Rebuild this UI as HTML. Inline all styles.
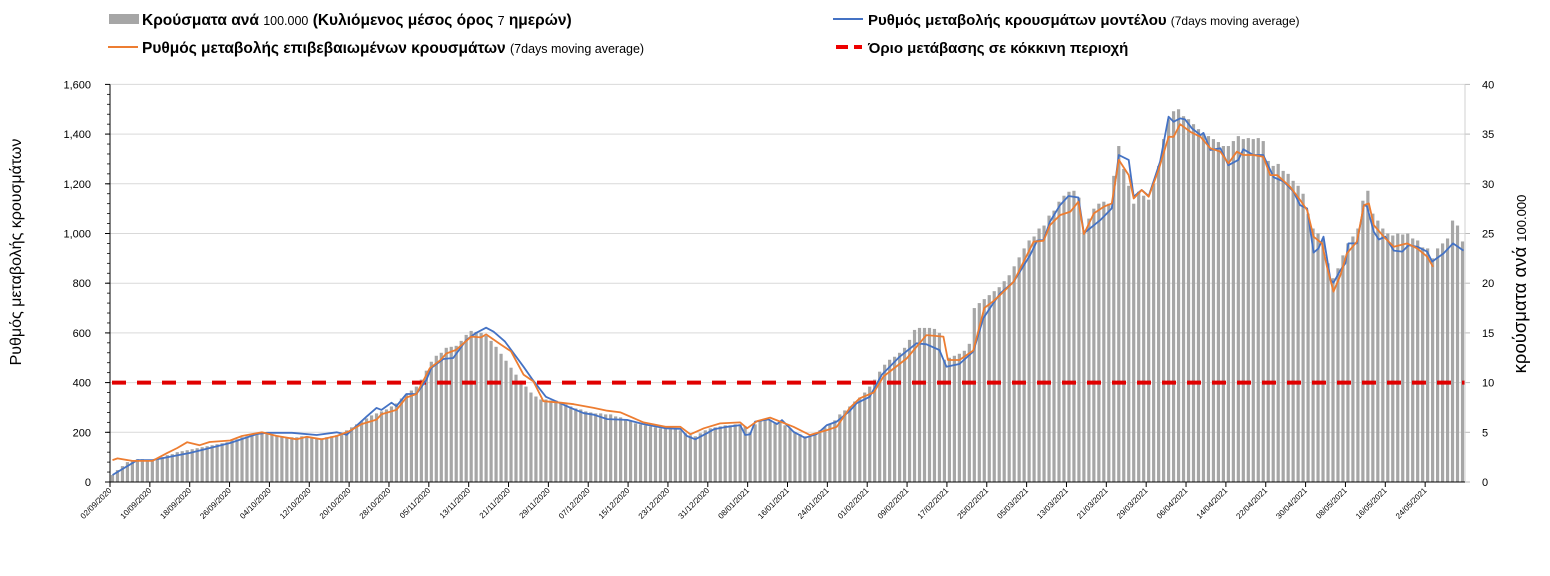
<!DOCTYPE html>
<html><head><meta charset="utf-8">
<style>
html,body{margin:0;padding:0;background:#fff;}
svg{display:block;font-family:"Liberation Sans",sans-serif;}
</style></head>
<body>
<svg id="chart" width="1550" height="576" viewBox="0 0 1550 576" xmlns="http://www.w3.org/2000/svg">
  <g>
    <rect x="109" y="14" width="30" height="10" fill="#a6a6a6"/>
    <text x="142" y="25" font-size="15.5" font-weight="bold" fill="#000">Κρούσματα ανά <tspan font-size="12.5" font-weight="normal">100.000</tspan> (Κυλιόμενος μέσος όρος <tspan font-size="12.5" font-weight="normal">7</tspan> ημερών)</text>
    <line x1="833" y1="19" x2="863" y2="19" stroke="#4472c4" stroke-width="2"/>
    <text x="868" y="25" font-size="15" font-weight="bold" fill="#000">Ρυθμός μεταβολής κρουσμάτων μοντέλου <tspan font-size="12" font-weight="normal">(7days moving average)</tspan></text>
    <line x1="108" y1="47" x2="138" y2="47" stroke="#ed7d31" stroke-width="2"/>
    <text x="142" y="53" font-size="15.5" font-weight="bold" fill="#000">Ρυθμός μεταβολής επιβεβαιωμένων κρουσμάτων <tspan font-size="12.5" font-weight="normal">(7days moving average)</tspan></text>
    <line x1="836" y1="47" x2="862" y2="47" stroke="#e00" stroke-width="4" stroke-dasharray="12,6"/>
    <text x="868" y="53" font-size="15" font-weight="bold" fill="#000">Όριο μετάβασης σε κόκκινη περιοχή</text>
  </g>
  <text transform="translate(21,252) rotate(-90)" text-anchor="middle" font-size="16" fill="#000">Ρυθμός μεταβολής κρουσμάτων</text>
  <text transform="translate(1526,284) rotate(-90)" text-anchor="middle" font-size="18.5" fill="#000">κρούσματα ανά <tspan font-size="13">100.000</tspan></text>
  <g id="grid"></g>
  <g id="bars"></g>
  <g id="lines"></g>
  <g id="axes"></g>
</svg>
<script>
const startDate = [2020, 8, 2];
const barValues = [
0.7,1.2,1.6,2.0,2.2,2.3,2.3,2.2,2.2,2.3,
2.5,2.7,2.8,3.0,3.1,3.2,3.3,3.4,3.5,3.6,
3.7,3.8,3.9,4.0,4.2,4.3,4.5,4.6,4.8,4.9,
5.0,4.9,4.8,4.7,4.6,4.5,4.5,4.5,4.6,4.5,
4.4,4.4,4.4,4.5,4.6,4.7,4.8,5.2,5.5,5.8,
6.1,6.4,6.7,6.9,7.1,7.3,7.6,7.9,8.4,8.8,
9.2,9.6,10.3,11.2,12.1,12.7,13.0,13.5,13.6,13.7,
14.2,14.8,15.2,15.1,15.0,14.7,14.2,13.6,12.9,12.2,
11.5,10.8,10.2,9.6,9.0,8.6,8.3,8.3,8.2,8.2,
8.0,7.8,7.6,7.4,7.3,7.1,7.0,6.9,6.9,6.8,
6.8,6.6,6.5,6.3,6.1,5.9,5.8,5.7,5.6,5.5,
5.4,5.4,5.3,5.4,5.2,4.9,4.7,4.6,4.9,5.2,
5.4,5.5,5.6,5.7,5.7,5.8,5.8,5.6,5.0,5.8,
6.2,6.3,6.2,6.0,6.1,5.7,5.4,5.0,4.8,4.6,
4.6,4.8,5.2,5.5,5.8,6.2,6.8,7.2,7.6,8.1,
8.5,9.0,9.6,10.3,11.1,11.8,12.3,12.6,13.0,13.5,
14.3,15.3,15.5,15.5,15.5,15.4,15.0,12.3,12.5,12.7,
12.9,13.2,13.9,17.5,18.0,18.4,18.8,19.2,19.6,20.2,
20.8,21.7,22.6,23.5,24.3,24.7,25.5,25.8,26.8,27.3,
28.2,28.8,29.2,29.3,28.6,25.3,26.5,27.5,28.0,28.2,
28.0,30.8,33.8,31.5,29.8,28.0,29.2,28.8,28.4,30.0,
31.8,34.5,36.5,37.3,37.5,36.8,36.5,36.0,35.5,35.0,
34.8,34.5,34.2,33.8,33.8,34.3,34.8,34.5,34.6,34.5,
34.6,34.3,32.3,31.8,32.0,31.3,31.0,30.3,29.8,29.0,
27.0,25.5,25.0,24.5,22.0,20.5,21.5,22.8,24.0,24.7,
25.5,28.3,29.3,27.0,26.3,25.5,25.0,24.8,25.0,24.9,
25.0,24.5,24.3,23.6,23.5,22.5,23.5,24.0,24.5,26.3,
25.8,24.2];
const blueDays = [0,5,8,15.6,23.6,29,31,36,41,45,47,51,53,54,56,57,59,61,63,64,66.4,68.4,71,73,75,76.5,78.8,82.5,84.4,87,92,94.6,96.6,99.3,103.3,106.6,111,114,115.3,117,119.3,120.7,123.4,126,127,128,129,131.7,133.4,134.4,136.7,139,141.4,143.4,145.4,148,149.4,152,154.4,158,161.4,163.4,166,167.4,170,172.8,174.8,176.8,178.2,180.9,184.2,185.6,186.9,188.2,190.2,191.9,193.9,195,198.3,200.6,202,204,205,206.6,208,210.3,212,213,214.3,215.3,216.7,218.4,219,220.4,222.4,224,226,227,229,231,233.1,235.1,237.1,238.4,239.8,241.1,242.1,243.1,244.5,245.1,246.5,247.5,248.1,249.8,251.2,251.8,253.2,254.2,255.5,257.2,258.9,260.2,261.9,263.9,264.9,267.2,269.1,271.2];
const blueValues = [28,88,88,117,157,193,198,198,189,200,190,263,298,290,319,305,354,354,410,459,495,499,571,600,621,605,565,464,410,343,298,277,271,253,250,233,216,214,185,172,196,212,222,229,189,192,243,252,233,249,202,178,193,229,243,286,317,343,431,504,558,554,531,464,475,525,659,719,759,806,913,971,974,1048,1114,1151,1145,1001,1054,1101,1316,1296,1148,1175,1151,1289,1470,1450,1463,1459,1423,1396,1405,1336,1343,1275,1296,1339,1316,1316,1226,1209,1168,1114,1101,923,940,987,813,802,853,880,960,960,1114,1110,1007,976,987,931,927,953,947,927,887,920,960,931];
const orangeDays = [0,1,4,8,11,13,15,17.5,19.5,23.6,26,30,33,37,39,42,45,47.5,50,53,54,57,59,61,63.7,65.8,67,69,72,74,75,78,80,82.5,84.5,86.5,90,92.6,96.6,99.3,102,106.6,111,114,116,118.7,122,126,127.4,129.4,132,136.7,140,143.4,145.4,148,150,152.8,154.8,159.4,163.4,166.8,167.7,170,172.8,175,176.8,178.2,180.9,184.9,186.9,188.2,190.2,192.3,193.9,195,197,199,200.6,202,204,205,206.6,208,210,212,213,214.3,216.4,218.4,220.4,222.4,224,225.7,227,229,231,232.4,233.8,236.4,238.4,239.8,241.1,242.8,243.8,245.1,246.5,247.8,249.8,251.2,252.2,253.2,255.2,257.2,259.9,261.9,263.9,265.1];
const orangeValues = [88,95,85,85,117,137,160,148,161,167,185,200,185,172,182,172,185,204,233,251,273,290,340,354,458,490,517,532,585,582,594,552,526,432,405,325,319,313,298,287,280,240,222,222,192,216,236,240,216,245,259,222,189,209,222,298,337,360,425,497,591,585,491,491,529,700,727,753,806,967,971,1034,1074,1088,1128,998,1081,1108,1121,1296,1235,1141,1175,1148,1256,1389,1389,1440,1409,1389,1343,1329,1282,1329,1316,1316,1309,1235,1235,1188,1135,1094,987,960,866,766,833,920,967,1114,1121,1034,987,947,960,940,907,866];
const leftTicks = [0,200,400,600,800,1000,1200,1400,1600];
const rightTicks = [0,5,10,15,20,25,30,35,40];
const threshold = [400];

const NS = "http://www.w3.org/2000/svg";
const X0 = 110, X1 = 1465, Y0 = 482, Y1 = 84.4, NDAYS = 272;
const pxDay = (X1 - X0) / NDAYS;
function xDay(d){ return X0 + (d + 0.5) * pxDay; }
function yL(v){ return Y0 - (v / 1600) * (Y0 - Y1); }
function yR(v){ return Y0 - (v / 40) * (Y0 - Y1); }
function mk(tag, attrs, parent){
  const e = document.createElementNS(NS, tag);
  for (const k in attrs) e.setAttribute(k, attrs[k]);
  parent.appendChild(e); return e;
}
const grid = document.getElementById('grid');
const bars = document.getElementById('bars');
const lines = document.getElementById('lines');
const axes = document.getElementById('axes');

leftTicks.forEach(v => {
  if (v > 0) {
    const g = mk('line', {x1:X0, x2:X1, y1:yL(v), y2:yL(v), stroke:'#d9d9d9', 'stroke-width':1}, grid);
    
    
  }
  const t = mk('text', {x:91, y:yL(v)+4, 'text-anchor':'end', 'font-size':11, fill:'#000'}, axes);
  t.textContent = v.toLocaleString('en-US');
  
  
  mk('line', {x1:X0-5, x2:X0, y1:yL(v), y2:yL(v), stroke:'#000'}, axes);
});
for (let v = 0; v < 1600; v += 40) {
  mk('line', {x1:X0-3, x2:X0, y1:yL(v), y2:yL(v), stroke:'#000', 'stroke-width':0.8}, axes);
}
rightTicks.forEach(v => {
  const t = mk('text', {x:1482, y:yR(v)+4, 'text-anchor':'start', 'font-size':11, fill:'#000'}, axes);
  t.textContent = v;
  
  
  mk('line', {x1:X1, x2:X1+5, y1:yR(v), y2:yR(v), stroke:'#bbb'}, axes);
});

barValues.forEach((v, i) => {
  const y = yR(v);
  const b = mk('rect', {x:xDay(i)-1.6, y:y, width:3.2, height:Y0-y, fill:'#a6a6a6'}, bars);
  
  
});

threshold.forEach(v => {
  const l = mk('line', {x1:X0+2, x2:X1, y1:yL(v), y2:yL(v), stroke:'#e00000', 'stroke-width':4, 'stroke-dasharray':'14,11'}, lines);
  
  
});

function poly(days, vals, color, name){
  const pts = days.map((d, i) => xDay(d).toFixed(1) + ',' + yL(vals[i]).toFixed(1)).join(' ');
  const p = mk('polyline', {points:pts, fill:'none', stroke:color, 'stroke-width':1.8, 'stroke-linejoin':'round'}, lines);
  
  
}
poly(blueDays, blueValues, '#4472c4', 'model-rate-line');
poly(orangeDays, orangeValues, '#ed7d31', 'confirmed-rate-line');

mk('line', {x1:X0, x2:X0, y1:Y1, y2:Y0, stroke:'#000', 'stroke-width':1}, axes);
mk('line', {x1:X1, x2:X1, y1:Y1, y2:Y0, stroke:'#d0d0d0', 'stroke-width':1}, axes);
mk('line', {x1:X0, x2:X1, y1:Y0, y2:Y0, stroke:'#000', 'stroke-width':1}, axes);

function pad(n){ return (n < 10 ? '0' : '') + n; }
for (let d = 0; d < NDAYS; d += 8) {
  const dt = new Date(startDate[0], startDate[1], startDate[2] + d);
  const x = X0 + d * pxDay;
  mk('line', {x1:x, x2:x, y1:Y0, y2:Y0+5, stroke:'#000'}, axes);
  const t = mk('text', {transform:`translate(${x+2},${Y0+9}) rotate(-45)`, 'text-anchor':'end', 'font-size':8, fill:'#000'}, axes);
  t.textContent = pad(dt.getDate()) + '/' + pad(dt.getMonth()+1) + '/' + dt.getFullYear();
  
  
}
</script>
</body></html>
